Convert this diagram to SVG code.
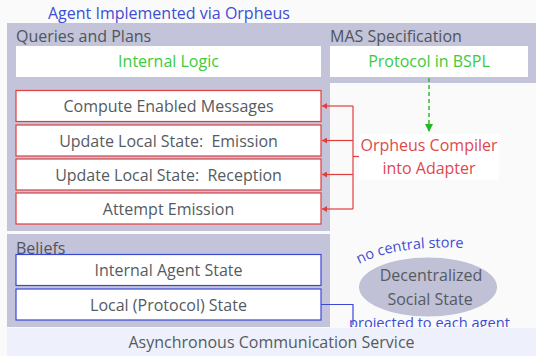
<svg xmlns="http://www.w3.org/2000/svg" width="536" height="356" viewBox="0 0 536 356">
<style>
  text { font-family: "Open Sans", "Noto Sans", "DejaVu Sans", sans-serif; font-size: 16px; }
  .panel { fill: #c3c3d9; }
  .head { fill: #4f555c; }
  .node { fill: #ffffff; }
  .red { fill: #ffffff; stroke: #e23c3c; stroke-width: 1.2; }
  .blue { fill: #ffffff; stroke: #3a48d8; stroke-width: 1.2; }
  .lbl { fill: #555b61; text-anchor: middle; }
  .green { fill: #3ccb3c; text-anchor: middle; }
  .rtxt { fill: #e0484c; text-anchor: middle; }
  .btxt { fill: #3d4dd6; }
</style>
<defs>
  <marker id="redArrow" markerWidth="6" markerHeight="6" refX="5" refY="3" orient="auto" markerUnits="userSpaceOnUse">
    <path d="M0,0 L5,3 L0,6 Z" fill="#e23c3c"/>
  </marker>
  <marker id="greenArrow" markerWidth="10" markerHeight="10" refX="8" refY="4" orient="auto" markerUnits="userSpaceOnUse">
    <path d="M0,0 L8,4 L0,8 Z" fill="#22b822"/>
  </marker>
</defs>
<rect x="0" y="0" width="536" height="356" fill="#fafafa"/>
<text x="48" y="19" class="btxt">Agent Implemented via Orpheus</text>

<g id="panel-queries">
  <rect class="panel" x="7" y="23" width="323" height="208"/>
  <text x="16" y="42" class="head">Queries and Plans</text>
</g>
<g id="panel-mas">
  <rect class="panel" x="330" y="23" width="206" height="60"/>
  <text x="330" y="42" class="head">MAS Specification</text>
</g>
<g id="panel-beliefs">
  <rect class="panel" x="7" y="234" width="323" height="93"/>
  <text x="16" y="254" class="head">Beliefs</text>
</g>

<g id="internal-logic">
  <rect class="node" x="16" y="46" width="305" height="31"/>
  <text x="168.5" y="67" class="green">Internal Logic</text>
</g>
<g id="protocol-bspl">
  <rect class="node" x="330" y="46" width="198" height="31"/>
  <text x="429" y="67" class="green">Protocol in BSPL</text>
</g>

<g id="compute-enabled">
  <rect class="red" x="16" y="90.5" width="305" height="31"/>
  <text x="168.5" y="112" class="lbl">Compute Enabled Messages</text>
</g>
<g id="update-emission">
  <rect class="red" x="16" y="125" width="305" height="31"/>
  <text x="168.5" y="146.5" class="lbl">Update Local State:&#160; Emission</text>
</g>
<g id="update-reception">
  <rect class="red" x="16" y="159" width="305" height="31"/>
  <text x="168.5" y="180.5" class="lbl">Update Local State:&#160; Reception</text>
</g>
<g id="attempt-emission">
  <rect class="red" x="16" y="193" width="305" height="31"/>
  <text x="168.5" y="214.5" class="lbl">Attempt Emission</text>
</g>

<g id="internal-agent-state">
  <rect class="blue" x="16" y="254.5" width="305" height="31"/>
  <text x="168.5" y="276" class="lbl">Internal Agent State</text>
</g>
<g id="local-state">
  <rect class="blue" x="16" y="289" width="305" height="31"/>
  <text x="168.5" y="310.5" class="lbl">Local (Protocol) State</text>
</g>

<g id="orpheus-compiler">
  <rect x="359" y="134" width="140" height="46" fill="#ffffff"/>
  <text x="429" y="151" class="rtxt">Orpheus Compiler</text>
  <text x="429" y="174" class="rtxt">into Adapter</text>
</g>

<g id="social-state">
  <ellipse cx="428" cy="287" rx="69" ry="29.5" fill="#c0c0d6"/>
  <text x="431" y="281" class="lbl">Decentralized</text>
  <text x="430" y="305" class="lbl">Social State</text>
</g>

<g id="connectors">
  <line x1="429" y1="78" x2="429" y2="132" stroke="#22b822" stroke-width="1.4" stroke-dasharray="4,3" marker-end="url(#greenArrow)"/>
  <g fill="none" stroke="#e23c3c" stroke-width="1.2">
    <line x1="359" y1="156.5" x2="353" y2="156.5"/>
    <line x1="353" y1="106" x2="353" y2="209"/>
    <line x1="353" y1="106" x2="322" y2="106" marker-end="url(#redArrow)"/>
    <line x1="353" y1="140.5" x2="322" y2="140.5" marker-end="url(#redArrow)"/>
    <line x1="353" y1="174.5" x2="322" y2="174.5" marker-end="url(#redArrow)"/>
    <line x1="353" y1="209" x2="322" y2="209" marker-end="url(#redArrow)"/>
  </g>
  <polyline points="321,304.5 353,304.5 353,325" fill="none" stroke="#3a48d8" stroke-width="1.2"/>
</g>

<path id="arcText" d="M359 264 Q 395 245 465 248" fill="none"/>
<text class="btxt" style="font-size:14.5px"><textPath href="#arcText">no central store</textPath></text>
<text x="349" y="328" class="btxt" style="font-size:14.6px">projected to each agent</text>

<g id="comm-service">
  <rect x="7" y="327" width="529" height="29" fill="#eef0fc"/>
  <line x1="7" y1="327.5" x2="536" y2="327.5" stroke="#f8f8fe" stroke-width="1"/>
  <text x="271.5" y="348" class="lbl">Asynchronous Communication Service</text>
</g>
</svg>
